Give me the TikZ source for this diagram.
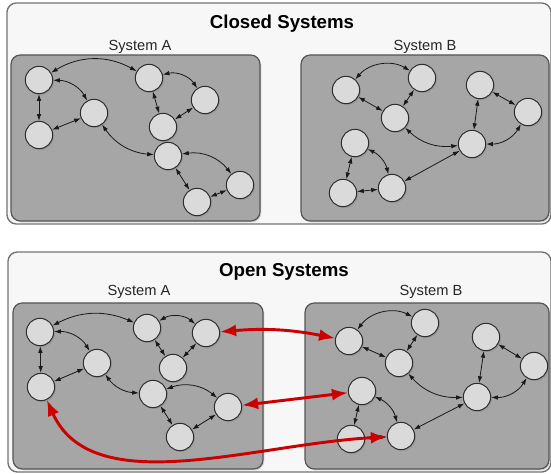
\documentclass[tikz,border=0pt]{standalone}
\usepackage{fontspec}
\setmainfont{Liberation Sans}
\usetikzlibrary{arrows.meta,shadows}

\definecolor{panelfill}{RGB}{247,247,247}
\definecolor{panelline}{RGB}{115,115,115}
\definecolor{sysfill}{RGB}{166,166,166}
\definecolor{sysline}{RGB}{85,85,85}
\definecolor{partfill}{RGB}{218,218,218}
\definecolor{partline}{RGB}{45,45,45}
\definecolor{flowred}{RGB}{204,0,0}

\tikzset{every picture/.style={line width=0.75pt}}
\tikzset{
  part/.style={circle,minimum size=20.5pt,inner sep=0pt,draw=partline,fill=partfill,line width=0.75pt,
    drop shadow={shadow xshift=1pt,shadow yshift=-1pt,opacity=0.35}},
  link/.style={{Latex[length=5pt,width=3.4pt]}-{Latex[length=5pt,width=3.4pt]},draw=black!90,line width=0.6pt},
  flow/.style={{Latex[length=12pt,width=9pt]}-{Latex[length=12pt,width=9pt]},draw=flowred,line width=2.2pt},
  panel/.style={draw=panelline,fill=panelfill,rounded corners=7pt,line width=1pt},
  sysbox/.style={draw=sysline,fill=sysfill,rounded corners=7pt,line width=0.9pt,
    drop shadow={shadow xshift=1pt,shadow yshift=-1pt,opacity=0.3}},
  title/.style={font=\bfseries\fontsize{14}{16}\selectfont},
  syslabel/.style={font=\fontsize{11}{13}\selectfont,text=black!85}
}

\begin{document}
\begin{tikzpicture}[x=0.75pt,y=0.75pt,yscale=-1,xscale=1]
\useasboundingbox (0,0) rectangle (551,474);

% Closed systems panel
\draw [panel] (7,3) rectangle (551,224);
\draw [sysbox] (11,55) rectangle (260,221);
\draw [sysbox] (301,55) rectangle (549,221);
\node [title] (ctitle) at (282,24) {Closed Systems};
\node [syslabel] (clabA) at (140,47) {System A};
\node [syslabel] (clabB) at (425,47) {System B};

% Open systems panel
\draw [panel] (8,252) rectangle (551,472);
\draw [sysbox] (13,303) rectangle (263,469);
\draw [sysbox] (305,303) rectangle (549,469);
\node [title] (otitle) at (284,272) {Open Systems};
\node [syslabel] (olabA) at (139,292) {System A};
\node [syslabel] (olabB) at (431,292) {System B};

% Closed, system A
\node [part] (a1) at (39,80) {};
\node [part] (a2) at (149,78) {};
\node [part] (a3) at (205,100) {};
\node [part] (a4) at (94,113) {};
\node [part] (a5) at (39,135) {};
\node [part] (a6) at (163,127) {};
\node [part] (a7) at (168,156) {};
\node [part] (a8) at (240,185) {};
\node [part] (a9) at (197,202) {};
\draw [link] (a1) to [bend right=30] (a2);
\draw [link] (a1) to [bend right=30] (a4);
\draw [link] (a1) -- (a5);
\draw [link] (a5) -- (a4);
\draw [link] (a2) to [bend right=35] (a3);
\draw [link] (a2) -- (a6);
\draw [link] (a3) -- (a6);
\draw [link] (a4) to [bend left=25] (a7);
\draw [link] (a7) to [bend right=30] (a8);
\draw [link] (a7) -- (a9);
\draw [link] (a8) -- (a9);

% Closed, system B
\node [part] (b1) at (346,90) {};
\node [part] (b2) at (422,78) {};
\node [part] (b3) at (395,118) {};
\node [part] (b4) at (480,85) {};
\node [part] (b5) at (528,112) {};
\node [part] (b6) at (472,144) {};
\node [part] (b7) at (355,143) {};
\node [part] (b8) at (343,193) {};
\node [part] (b9) at (392,188) {};
\draw [link] (b1) to [bend right=40] (b2);
\draw [link] (b2) -- (b3);
\draw [link] (b1) -- (b3);
\draw [link] (b3) to [bend left=25] (b6);
\draw [link] (b4) -- (b6);
\draw [link] (b4) -- (b5);
\draw [link] (b6) to [bend left=30] (b5);
\draw [link] (b7) -- (b8);
\draw [link] (b7) to [bend right=25] (b9);
\draw [link] (b8) -- (b9);
\draw [link] (b9) -- (b6);

% Open, system A
\node [part] (c1) at (40,332) {};
\node [part] (c2) at (147,328) {};
\node [part] (c3) at (206,333) {};
\node [part] (c4) at (97,363) {};
\node [part] (c5) at (41,387) {};
\node [part] (c6) at (173,368) {};
\node [part] (c7) at (153,394) {};
\node [part] (c8) at (228,407) {};
\node [part] (c9) at (180,437) {};
\draw [link] (c1) to [bend right=25] (c2);
\draw [link] (c1) to [bend right=30] (c4);
\draw [link] (c1) -- (c5);
\draw [link] (c5) -- (c4);
\draw [link] (c2) to [bend right=35] (c3);
\draw [link] (c2) -- (c6);
\draw [link] (c3) -- (c6);
\draw [link] (c4) to [bend left=25] (c7);
\draw [link] (c7) to [bend right=30] (c8);
\draw [link] (c7) -- (c9);
\draw [link] (c8) -- (c9);

% Open, system B
\node [part] (d1) at (349,341) {};
\node [part] (d2) at (425,323) {};
\node [part] (d3) at (399,363) {};
\node [part] (d4) at (486,337) {};
\node [part] (d5) at (534,366) {};
\node [part] (d6) at (477,397) {};
\node [part] (d7) at (362,391) {};
\node [part] (d8) at (351,439) {};
\node [part] (d9) at (401,436) {};
\draw [link] (d1) to [bend right=40] (d2);
\draw [link] (d2) -- (d3);
\draw [link] (d1) -- (d3);
\draw [link] (d3) to [bend left=25] (d6);
\draw [link] (d4) -- (d6);
\draw [link] (d4) -- (d5);
\draw [link] (d6) to [bend left=30] (d5);
\draw [link] (d7) -- (d8);
\draw [link] (d7) to [bend right=25] (d9);
\draw [link] (d8) -- (d9);
\draw [link] (d9) -- (d6);

% exchange between the open systems
\draw [flow] (c3) to [bend right=8] (d1);
\draw [flow] (c8) -- (d7);
\draw [flow] (c5) to [out=70,in=176,looseness=1] (d9);

\end{tikzpicture}
\end{document}
